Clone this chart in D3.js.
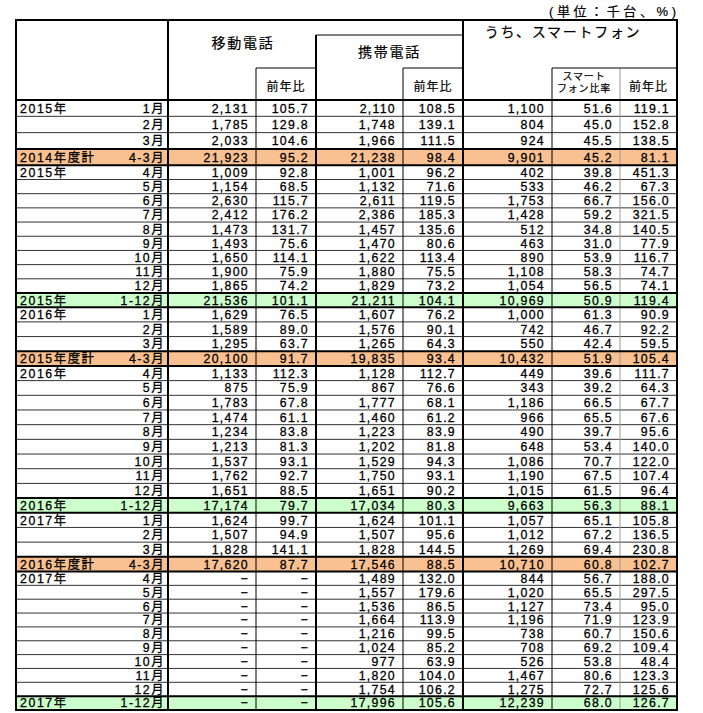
<!DOCTYPE html>
<html><head><meta charset="utf-8">
<script src="https://cdn.jsdelivr.net/npm/d3@7"></script>
<style>
body{margin:0;background:#fff}
text{font-family:"Liberation Sans","Noto Sans CJK JP",sans-serif;fill:#000}
</style>
</head><body><svg id="c" width="703" height="713"></svg>
<script>
// ---------- data ----------
const yearLabels = ["2015年","","","2014年度計","2015年","","","","","","","","","2015年",
  "2016年","","","2015年度計","2016年","","","","","","","","","2016年",
  "2017年","","","2016年度計","2017年","","","","","","","","","2017年"];
const monthLabels = ["1月","2月","3月","4-3月","4月","5月","6月","7月","8月","9月","10月","11月","12月","1-12月",
  "1月","2月","3月","4-3月","4月","5月","6月","7月","8月","9月","10月","11月","12月","1-12月",
  "1月","2月","3月","4-3月","4月","5月","6月","7月","8月","9月","10月","11月","12月","1-12月"];
const mobile = [2131,1785,2033,21923,1009,1154,2630,2412,1473,1493,1650,1900,1865,21536,
  1629,1589,1295,20100,1133,875,1783,1474,1234,1213,1537,1762,1651,17174,
  1624,1507,1828,17620,null,null,null,null,null,null,null,null,null,null];
const mobileYoY = [105.7,129.8,104.6,95.2,92.8,68.5,115.7,176.2,131.7,75.6,114.1,75.9,74.2,101.1,
  76.5,89.0,63.7,91.7,112.3,75.9,67.8,61.1,83.8,81.3,93.1,92.7,88.5,79.7,
  99.7,94.9,141.1,87.7,null,null,null,null,null,null,null,null,null,null];
const keitai = [2110,1748,1966,21238,1001,1132,2611,2386,1457,1470,1622,1880,1829,21211,
  1607,1576,1265,19835,1128,867,1777,1460,1223,1202,1529,1750,1651,17034,
  1624,1507,1828,17546,1489,1557,1536,1664,1216,1024,977,1820,1754,17996];
const keitaiYoY = [108.5,139.1,111.5,98.4,96.2,71.6,119.5,185.3,135.6,80.6,113.4,75.5,73.2,104.1,
  76.2,90.1,64.3,93.4,112.7,76.6,68.1,61.2,83.9,81.8,94.3,93.1,90.2,80.3,
  101.1,95.6,144.5,88.5,132.0,179.6,86.5,113.9,99.5,85.2,63.9,104.0,106.2,105.6];
const smart = [1100,804,924,9901,402,533,1753,1428,512,463,890,1108,1054,10969,
  1000,742,550,10432,449,343,1186,966,490,648,1086,1190,1015,9663,
  1057,1012,1269,10710,844,1020,1127,1196,738,708,526,1467,1275,12239];
const smartRatio = [51.6,45.0,45.5,45.2,39.8,46.2,66.7,59.2,34.8,31.0,53.9,58.3,56.5,50.9,
  61.3,46.7,42.4,51.9,39.6,39.2,66.5,65.5,39.7,53.4,70.7,67.5,61.5,56.3,
  65.1,67.2,69.4,60.8,56.7,65.5,73.4,71.9,60.7,69.2,53.8,80.6,72.7,68.0];
const smartYoY = [119.1,152.8,138.5,81.1,451.3,67.3,156.0,321.5,140.5,77.9,116.7,74.7,74.1,119.4,
  90.9,92.2,59.5,105.4,111.7,64.3,67.7,67.6,95.6,140.0,122.0,107.4,96.4,88.1,
  105.8,136.5,230.8,102.7,188.0,297.5,95.0,123.9,150.6,109.4,48.4,123.3,125.6,126.7];
const groupTitles = ["移動電話","携帯電話","うち、スマートフォン"];
const yoyLabel = "前年比";
const ratioLabel = ["スマート","フォン比率"];
const unitLabel = "(単位：千台、%)";

// ---------- layout ----------
const svg = d3.select("#c");
const x = d3.scaleLinear().domain(d3.range(9)).range([16,168,256,316,403,463,552,620,677]);
const nRows = monthLabels.length;
const yb = d3.scaleLinear().domain([0,4,14,32,nRows]).range([100,165.3,307.2,571.5,710]);
const kind = m => m === "4-3月" ? "fy" : (m === "1-12月" ? "cy" : "m");
const rows = d3.range(nRows).map(i => ({
  i, year: yearLabels[i], month: monthLabels[i], kind: kind(monthLabels[i]),
  vals: [mobile[i], mobileYoY[i], keitai[i], keitaiYoY[i], smart[i], smartRatio[i], smartYoY[i]]
}));
const fmts = [d3.format(","), d3.format(".1f"), d3.format(","), d3.format(".1f"), d3.format(","), d3.format(".1f"), d3.format(".1f")];
const fill = {fy:"#F9C091", cy:"#CCFFCC", m:"#fff"};

// row fills
svg.append("g").selectAll("rect").data(rows).join("rect")
  .attr("x", x(0)).attr("width", x(8)-x(0))
  .attr("y", d => yb(d.i)).attr("height", d => yb(d.i+1)-yb(d.i))
  .attr("fill", d => fill[d.kind]);

// lines
const lines = svg.append("g");
function line(x1,y1,x2,y2,w,c){lines.append("line").attr("x1",x1).attr("y1",y1).attr("x2",x2).attr("y2",y2)
  .attr("stroke",c||"#000").attr("stroke-width",w);}
const yTop = 20, ySub = 68, yHead = yb(0), yBot = yb(nRows);
d3.range(1,nRows).forEach(k => {
  const thick = rows[k-1].kind !== "m" || rows[k].kind !== "m";
  if(!thick) line(x(0),yb(k),x(8),yb(k),1,"#333");
});
line(x(2),ySub,x(2),yBot,1,"#000");
line(x(4),ySub,x(4),yBot,1,"#000");
line(x(6),ySub,x(6),yBot,1,"#000");
line(x(7),ySub,x(7),yBot,1,"#999");
line(x(2),ySub,x(3),ySub,1);
line(x(4),ySub,x(5),ySub,1);
line(x(6),ySub,x(8),ySub,1);
line(x(3),35,x(5),35,1);
d3.range(1,nRows).forEach(k => {
  const thick = rows[k-1].kind !== "m" || rows[k].kind !== "m";
  if(thick) line(x(0)-1,yb(k),x(8)+1,yb(k),2);
});
line(x(0)-1,yTop,x(8)+1,yTop,2);
line(x(0)-1,yHead,x(8)+1,yHead,2);
line(x(0)-1,yBot,x(8)+1,yBot,2);
[0,1,5,8].forEach(c => line(x(c),yTop,x(c),yBot,2));
line(x(3),35,x(3),yBot,2);

// header text
const T = svg.append("g").style("stroke","#000").style("stroke-width","0.2px");
T.append("text").attr("x",676).attr("y",16).attr("text-anchor","end")
  .attr("textLength",127).attr("lengthAdjust","spacing")
  .style("font-size","13px").text(unitLabel);
const titlePos = [{c0:1,c1:3,y:48,dx:1},{c0:3,c1:5,y:57,dx:0},{c0:5,c1:8,y:37,dx:-7}];
groupTitles.forEach((t,k) => {
  T.append("text").attr("x",(x(titlePos[k].c0)+x(titlePos[k].c1))/2 + titlePos[k].dx).attr("y",titlePos[k].y)
    .attr("text-anchor","middle").style("font-size","14px").style("letter-spacing","1.7px").text(t);
});
[2,4,7].forEach(c => {
  T.append("text").attr("x",(x(c)+x(c+1))/2).attr("y",90.5).attr("text-anchor","middle")
    .style("font-size","12px").style("letter-spacing","1px").text(yoyLabel);
});
ratioLabel.forEach((t,k) => {
  T.append("text").attr("x",(x(6)+x(7))/2 - 2).attr("y",80+k*11.5).attr("text-anchor","middle")
    .style("font-size","10px").style("letter-spacing","0.8px").text(t);
});

// body text
const body = svg.append("g").style("font-size","12.3px").style("stroke","#000").style("stroke-width","0.3px");
const ty = d => (yb(d.i)+yb(d.i+1))/2 + 4.4;
body.selectAll("text.yr").data(rows.filter(d=>d.year)).join("text").attr("class","yr")
  .attr("x", x(0)+4).attr("y", ty).style("letter-spacing","1.6px").text(d => d.year);
body.selectAll("text.mo").data(rows).join("text").attr("class","mo")
  .attr("x", x(1)-3).attr("y", ty).attr("text-anchor","end").style("letter-spacing","1.5px").text(d => d.month);
d3.range(7).forEach(c => {
  body.selectAll("text.v"+c).data(rows).join("text").attr("class","v"+c)
    .attr("x", x(c+2)-7).attr("y", ty).attr("text-anchor","end").style("letter-spacing","1.3px")
    .text(d => d.vals[c] == null ? "−" : fmts[c](d.vals[c]));
});
</script>
</body></html>
